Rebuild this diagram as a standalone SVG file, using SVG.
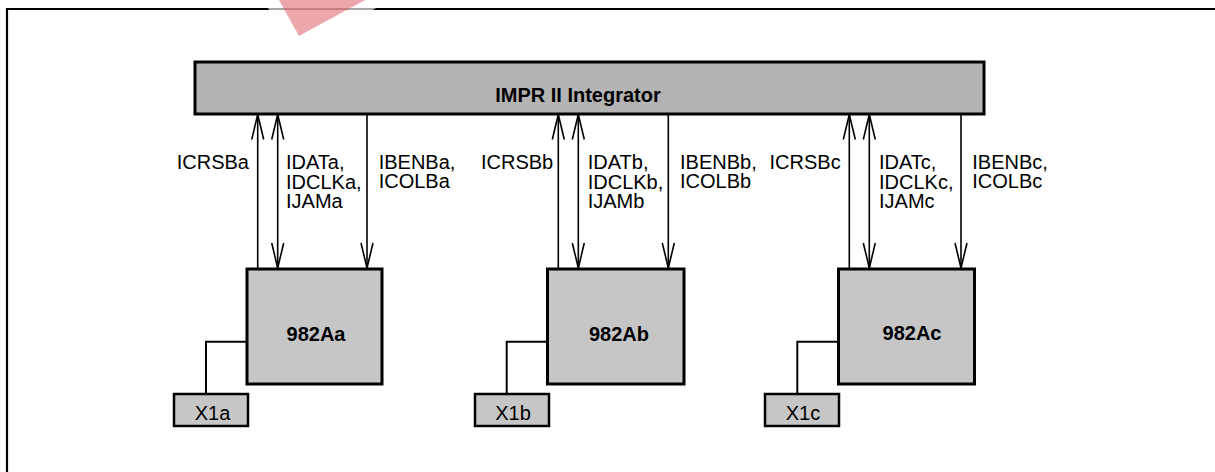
<svg xmlns="http://www.w3.org/2000/svg" width="1215" height="472" viewBox="0 0 1215 472">
<style>
.lbl{font-family:"Liberation Sans",Arial,sans-serif;font-size:20px;fill:#000}
.bold{font-family:"Liberation Sans",Arial,sans-serif;font-size:20px;font-weight:bold;fill:#000}
.bar{fill:#b4b4b4;stroke:#000;stroke-width:3}
.blk{fill:#c6c6c6;stroke:#000;stroke-width:3}
.sm{fill:#c6c6c6;stroke:#000;stroke-width:2.5}
.wire{fill:none;stroke:#000;stroke-width:1.6}
.link{fill:none;stroke:#000;stroke-width:2}
</style>
<defs>
<marker id="open" markerUnits="userSpaceOnUse" markerWidth="28" markerHeight="14" refX="25" refY="6" orient="auto-start-reverse" overflow="visible">
<path d="M0,0 L25,6 L0,12" fill="none" stroke="#000" stroke-width="1.6"/>
</marker>
</defs>
<rect width="1215" height="472" fill="#fff"/>
<g id="frame">
<path d="M7,472 V9 H1215" fill="none" stroke="#000" stroke-width="2.2"/>
</g>
<g id="watermark">
<polygon points="262,0 390,0 300,52" fill="#fff" opacity="0.65"/>
<polygon points="279,0 365,0 299,36" fill="#dc5c68" opacity="0.55"/>
</g>
<g id="integrator">
<rect class="bar" x="195" y="62" width="789" height="52"/>
<text class="bold" x="578" y="101.5" text-anchor="middle">IMPR II Integrator</text>
</g>
<g id="blockA">
<rect class="blk" x="247" y="269" width="135" height="115"/>
<text class="bold" x="316" y="341" text-anchor="middle">982Aa</text>
</g>
<g id="blockB">
<rect class="blk" x="547.5" y="269" width="136.5" height="115"/>
<text class="bold" x="619" y="341" text-anchor="middle">982Ab</text>
</g>
<g id="blockC">
<rect class="blk" x="838.5" y="269" width="136" height="115"/>
<text class="bold" x="912" y="340" text-anchor="middle">982Ac</text>
</g>
<g id="x1a">
<rect class="sm" x="174" y="394" width="74" height="32"/>
<text class="lbl" x="212.5" y="420" text-anchor="middle">X1a</text>
</g>
<g id="x1b">
<rect class="sm" x="475" y="394" width="74" height="32"/>
<text class="lbl" x="513" y="420" text-anchor="middle">X1b</text>
</g>
<g id="x1c">
<rect class="sm" x="765" y="394" width="74" height="32"/>
<text class="lbl" x="803" y="420" text-anchor="middle">X1c</text>
</g>
<g id="connectors">
<line class="wire" x1="257.7" y1="268" x2="257.7" y2="114.5" marker-end="url(#open)"/>
<line class="wire" x1="277.7" y1="268" x2="277.7" y2="114.5" marker-start="url(#open)" marker-end="url(#open)"/>
<line class="wire" x1="367" y1="114.5" x2="367" y2="268" marker-end="url(#open)"/>
<line class="wire" x1="558.3" y1="268" x2="558.3" y2="114.5" marker-end="url(#open)"/>
<line class="wire" x1="578.3" y1="268" x2="578.3" y2="114.5" marker-start="url(#open)" marker-end="url(#open)"/>
<line class="wire" x1="668.3" y1="114.5" x2="668.3" y2="268" marker-end="url(#open)"/>
<line class="wire" x1="849.3" y1="268" x2="849.3" y2="114.5" marker-end="url(#open)"/>
<line class="wire" x1="869.3" y1="268" x2="869.3" y2="114.5" marker-start="url(#open)" marker-end="url(#open)"/>
<line class="wire" x1="961" y1="114.5" x2="961" y2="268" marker-end="url(#open)"/>
<path class="link" d="M247,341.7 H206 V394"/>
<path class="link" d="M547.5,341.7 H506.7 V394"/>
<path class="link" d="M838.5,341.7 H797.3 V394"/>
<text class="lbl" x="249" y="169" text-anchor="end">ICRSBa</text>
<text class="lbl" x="286" y="169">IDATa,<tspan x="286" dy="19.5">IDCLKa,</tspan><tspan x="286" dy="19.5">IJAMa</tspan></text>
<text class="lbl" x="378.7" y="169">IBENBa,<tspan x="378.7" dy="19">ICOLBa</tspan></text>
<text class="lbl" x="481" y="169">ICRSBb</text>
<text class="lbl" x="587.7" y="169">IDATb,<tspan x="587.7" dy="19.5">IDCLKb,</tspan><tspan x="587.7" dy="19.5">IJAMb</tspan></text>
<text class="lbl" x="680" y="169">IBENBb,<tspan x="680" dy="19">ICOLBb</tspan></text>
<text class="lbl" x="840.7" y="169" text-anchor="end">ICRSBc</text>
<text class="lbl" x="879" y="169">IDATc,<tspan x="879" dy="19.5">IDCLKc,</tspan><tspan x="879" dy="19.5">IJAMc</tspan></text>
<text class="lbl" x="972.3" y="169">IBENBc,<tspan x="972.3" dy="19">ICOLBc</tspan></text>
</g>
</svg>
